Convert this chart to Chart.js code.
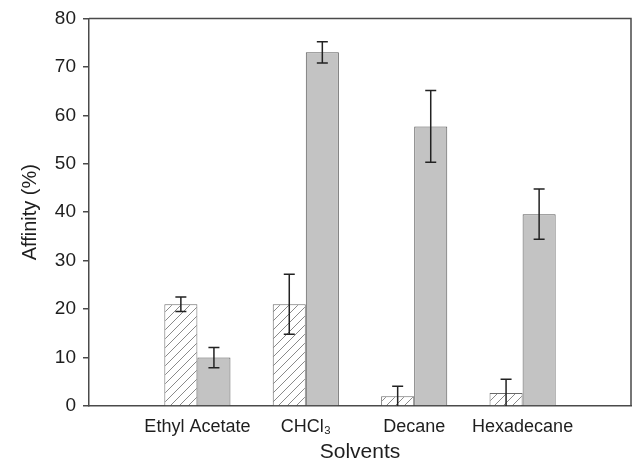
<!DOCTYPE html>
<html>
<head>
<meta charset="utf-8">
<script src="https://cdn.jsdelivr.net/npm/chart.js@4"></script>
<style>
  body { margin: 0; background: #fff; }
  #wrap { width: 633px; height: 463px; }
</style>
</head>
<body>
<div id="wrap"><canvas id="affinityChart" width="633" height="463"></canvas></div>
<script>
// empty slots at both ends leave the gaps seen in the original figure
const solvents = ['', 'Ethyl Acetate', 'CHCl\u2083', 'Decane', 'Hexadecane', ''];
const hatchedValues = [null, 21, 21, 2, 2.7, null];
const hatchedErrors = [null, 1.5, 6.2, 2.1, 2.8, null];
const grayValues = [null, 10, 73, 57.7, 39.6, null];
const grayErrors = [null, 2.1, 2.2, 7.4, 5.2, null];
const yTicks = [0, 10, 20, 30, 40, 50, 60, 70, 80];

const frameColor = '#4a4a4a';
const textColor = '#1e1e1e';

// diagonal hatch fill for the first series
function makeHatch() {
    const c = document.createElement('canvas');
    c.width = 9;
    c.height = 9;
    const p = c.getContext('2d');
    p.fillStyle = '#ffffff';
    p.fillRect(0, 0, 9, 9);
    p.strokeStyle = '#8a8a8a';
    p.lineWidth = 1;
    p.beginPath();
    p.moveTo(0, 9); p.lineTo(9, 0);
    p.moveTo(-2, 2); p.lineTo(2, -2);
    p.moveTo(7, 11); p.lineTo(11, 7);
    p.stroke();
    const ctx = document.getElementById('affinityChart').getContext('2d');
    return ctx.createPattern(c, 'repeat');
}

const errorBars = {
    id: 'errorBars',
    afterDatasetsDraw(chart) {
        const ctx = chart.ctx;
        const yScale = chart.scales.y;
        const errs = [hatchedErrors, grayErrors];
        ctx.save();
        ctx.strokeStyle = '#222';
        ctx.lineWidth = 1.5;
        chart.data.datasets.forEach((ds, di) => {
            const meta = chart.getDatasetMeta(di);
            meta.data.forEach((bar, i) => {
                const v = ds.data[i];
                const e = errs[di][i];
                if (v == null || e == null) return;
                const x = bar.x;
                const top = yScale.getPixelForValue(v + e);
                const bot = yScale.getPixelForValue(Math.max(0, v - e));
                ctx.beginPath();
                ctx.moveTo(x, top); ctx.lineTo(x, bot);
                ctx.moveTo(x - 5.5, top); ctx.lineTo(x + 5.5, top);
                if (v - e > 0) { ctx.moveTo(x - 5.5, bot); ctx.lineTo(x + 5.5, bot); }
                ctx.stroke();
            });
        });
        ctx.restore();
    }
};

// top and right sides of the box
const frame = {
    id: 'frame',
    afterDraw(chart) {
        const a = chart.chartArea;
        const ctx = chart.ctx;
        ctx.save();
        ctx.strokeStyle = frameColor;
        ctx.lineWidth = 1.5;
        ctx.beginPath();
        ctx.moveTo(a.left, a.top);
        ctx.lineTo(a.right, a.top);
        ctx.lineTo(a.right, a.bottom);
        ctx.stroke();
        ctx.restore();
    }
};

new Chart(document.getElementById('affinityChart'), {
    type: 'bar',
    data: {
        labels: solvents,
        datasets: [{
            label: 'hatched',
            data: hatchedValues,
            backgroundColor: makeHatch(),
            borderColor: '#6a6a6a',
            borderWidth: 1
        }, {
            label: 'gray',
            data: grayValues,
            backgroundColor: '#c3c3c3',
            borderColor: '#5a5a5a',
            borderWidth: 1
        }]
    },
    options: {
        responsive: false,
        animation: false,
        layout: { padding: { left: 0, right: 2, top: 18, bottom: 0 } },
        plugins: {
            legend: { display: false },
            tooltip: { enabled: false }
        },
        datasets: {
            bar: { categoryPercentage: 0.61, barPercentage: 1 }
        },
        scales: {
            x: {
                offset: false,
                grid: { display: false },
                border: { color: frameColor, width: 1.5 },
                ticks: {
                    color: textColor,
                    font: { family: 'Liberation Sans', size: 18 },
                    maxRotation: 0,
                    autoSkip: false,
                    padding: 2
                },
                title: {
                    display: true,
                    text: 'Solvents',
                    color: textColor,
                    font: { family: 'Liberation Sans', size: 21, lineHeight: 1.0 },
                    padding: { top: 0, bottom: 0 }
                },
                afterFit(scale) { scale.height = 57; }
            },
            y: {
                min: 0,
                max: 80,
                afterBuildTicks(scale) { scale.ticks = yTicks.map(v => ({ value: v })); },
                grid: {
                    drawOnChartArea: false,
                    drawTicks: true,
                    tickLength: 6,
                    color: frameColor,
                    lineWidth: 1.5
                },
                border: { color: frameColor, width: 1.5 },
                ticks: {
                    color: textColor,
                    font: { family: 'Liberation Sans', size: 19 },
                    padding: 7
                },
                title: {
                    display: true,
                    text: 'Affinity (%)',
                    color: textColor,
                    font: { family: 'Liberation Sans', size: 20 },
                    padding: { top: 18, bottom: 0 }
                },
                afterFit(scale) { scale.width = 89; }
            }
        }
    },
    plugins: [errorBars, frame]
});
</script>
</body>
</html>
